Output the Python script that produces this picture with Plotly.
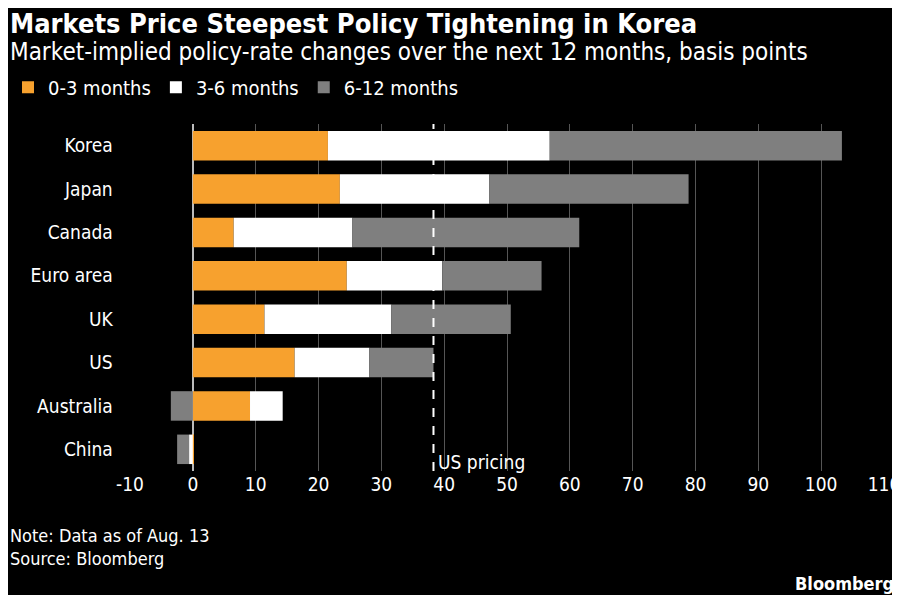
import plotly.graph_objects as go

countries = ["Korea", "Japan", "Canada", "Euro area", "UK", "US", "Australia", "China"]
m0_3 = [21.5, 23.4, 6.5, 24.5, 11.4, 16.2, 9.1, 0.15]
m3_6 = [35.3, 23.8, 18.9, 15.2, 20.2, 11.9, 5.2, -0.6]
m6_12 = [46.5, 31.7, 36.1, 15.8, 19.0, 10.2, -3.5, -1.9]
us_pricing = 38.3
ticks = list(range(-10, 111, 10))
tick_labels = [str(t) for t in ticks]

fig = go.Figure()
for name, vals, col in [("0-3 months", m0_3, "#f7a12e"), ("3-6 months", m3_6, "#ffffff"), ("6-12 months", m6_12, "#7f7f7f")]:
    fig.add_bar(y=countries, x=vals, name=name, orientation="h", marker=dict(color=col, line=dict(width=0)))

fig.add_shape(type="line", x0=us_pricing, x1=us_pricing, y0=0, y1=1.0, yref="paper", xref="x",
              line=dict(color="white", width=2, dash="dash"))
fig.add_annotation(x=us_pricing, y=0, yref="paper", yanchor="bottom", xanchor="left", xshift=3, yshift=-4,
                   text="US pricing", showarrow=False, font=dict(color="white", size=19))

L = 122
fig.update_layout(
    width=900, height=595, barmode="relative", bargap=0.32,
    paper_bgcolor="black", plot_bgcolor="black",
    font=dict(family="Liberation Sans Narrow, DejaVu Sans Condensed, Arial", color="white", size=19),
    margin=dict(l=L, r=24, t=116, b=132, autoexpand=False),
    showlegend=True,
    legend=dict(orientation="h", x=-L / (900 - L - 24), y=1.05, xanchor="left", yanchor="bottom", font=dict(size=20),
                itemwidth=30, traceorder="normal"),
    xaxis=dict(range=[-10, 110], tickvals=ticks, ticktext=tick_labels, showgrid=True, gridcolor="#555", gridwidth=1,
               zeroline=True, zerolinecolor="#bbb", zerolinewidth=1.5, tickfont=dict(size=19), automargin=False),
    yaxis=dict(autorange="reversed", tickfont=dict(size=19), ticksuffix="   ", automargin=False),
)
fig.add_annotation(x=0, xref="paper", xanchor="left", y=1, yref="paper", yanchor="top", yshift=118, xshift=-L,
                   showarrow=False, text="<b>Markets Price Steepest Policy Tightening in Korea</b>", font=dict(size=27))
fig.add_annotation(x=0, xref="paper", xanchor="left", y=1, yref="paper", yanchor="top", yshift=88, xshift=-L,
                   showarrow=False, text="Market-implied policy-rate changes over the next 12 months, basis points", font=dict(size=24))
fig.add_annotation(x=0, xref="paper", xanchor="left", y=0, yref="paper", yanchor="top", yshift=-52, xshift=-L, align="left",
                   showarrow=False, text="Note: Data as of Aug. 13<br>Source: Bloomberg", font=dict(size=18))
fig.add_annotation(x=1, xref="paper", xanchor="right", y=0, yref="paper", yanchor="top", xshift=12, yshift=-100,
                   showarrow=False, text="<b>Bloomberg</b>", font=dict(size=18))
fig.write_html("out.html")
